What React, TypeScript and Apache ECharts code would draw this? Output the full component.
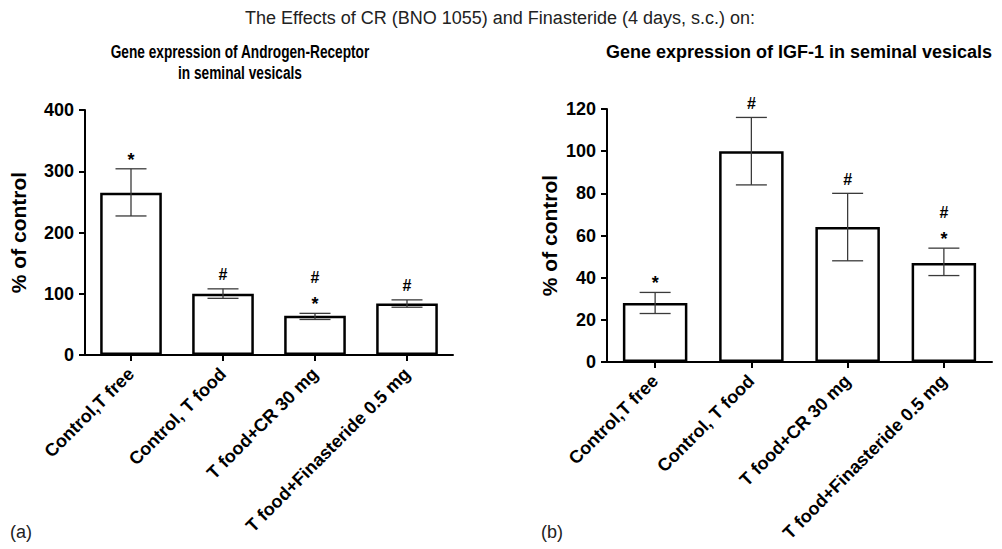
import React, { useEffect, useRef } from "react";
import * as echarts from "echarts";

const categories = ["Control,T free", "Control, T food", "T food+CR 30 mg", "T food+Finasteride 0.5 mg"];

const arMeans = [265, 100, 64, 84];
const arErrLow = [227, 92.5, 58, 78];
const arErrHigh = [304, 108, 68, 90];
const arMarks = [["*"], ["#"], ["*", "#"], ["#"]];

const igfMeans = [28, 100, 64, 47];
const igfErrLow = [23, 84, 48, 41];
const igfErrHigh = [33, 116, 80, 54];
const igfMarks = [["*"], ["#"], ["#"], ["*", "#"]];

const arTicks = { min: 0, max: 400, interval: 100 };
const igfTicks = { min: 0, max: 120, interval: 20 };

const FONT = "'Liberation Sans', Arial, Helvetica, sans-serif";

export default function App() {
  const ref = useRef<HTMLDivElement>(null);

  useEffect(() => {
    if (!ref.current) return;
    const chart = echarts.init(ref.current, undefined, { renderer: "svg" });

    const xAxisCommon = (gridIndex: number) => ({
      type: "category",
      gridIndex,
      data: categories,
      axisLine: { show: true, lineStyle: { color: "#000", width: 2 } },
      axisTick: { show: true, alignWithLabel: true, length: 6, lineStyle: { color: "#000", width: 2 } },
      axisLabel: {
        rotate: 45,
        interval: 0,
        margin: 16,
        color: "#000",
        fontFamily: FONT,
        fontWeight: "bold",
        fontSize: 18,
      },
      splitLine: { show: false },
    });

    const yAxisCommon = (gridIndex: number, t: any, nameGap: number) => ({
      type: "value",
      gridIndex,
      min: t.min,
      max: t.max,
      interval: t.interval,
      name: "% of control",
      nameLocation: "middle",
      nameGap,
      nameTextStyle: { color: "#000", fontFamily: FONT, fontWeight: "bold", fontSize: 21 },
      axisLine: { show: true, lineStyle: { color: "#000", width: 2 } },
      axisTick: { show: true, length: 6, lineStyle: { color: "#000", width: 2 } },
      axisLabel: { color: "#000", fontFamily: FONT, fontWeight: "bold", fontSize: 18, margin: 11 },
      splitLine: { show: false },
    });

    const barSeries = (idx: number, values: number[]) => ({
      type: "bar",
      xAxisIndex: idx,
      yAxisIndex: idx,
      data: values,
      barWidth: "67%",
      itemStyle: { color: "#fff", borderColor: "#000", borderWidth: 2.5 },
      z: 2,
    });

    const errSeries = (idx: number, low: number[], high: number[]) => ({
      type: "custom",
      xAxisIndex: idx,
      yAxisIndex: idx,
      z: 5,
      data: low.map((l, i) => [i, l, high[i]]),
      encode: { x: 0, y: [1, 2] },
      renderItem: (params: any, api: any) => {
        const i = api.value(0);
        const lo = api.coord([i, api.value(1)]);
        const hi = api.coord([i, api.value(2)]);
        const half = 15.5;
        const style = { stroke: "#3a3a3a", lineWidth: 1.3 };
        return {
          type: "group",
          children: [
            { type: "line", shape: { x1: lo[0], y1: lo[1], x2: hi[0], y2: hi[1] }, style },
            { type: "line", shape: { x1: hi[0] - half, y1: hi[1], x2: hi[0] + half, y2: hi[1] }, style },
            { type: "line", shape: { x1: lo[0] - half, y1: lo[1], x2: lo[0] + half, y2: lo[1] }, style },
          ],
        };
      },
    });

    const markSeries = (idx: number, high: number[], marks: string[][]) => ({
      type: "custom",
      xAxisIndex: idx,
      yAxisIndex: idx,
      z: 6,
      data: high.map((h, i) => [i, h]),
      encode: { x: 0, y: 1 },
      renderItem: (params: any, api: any) => {
        const i = api.value(0);
        const p = api.coord([i, api.value(1)]);
        const list = marks[params.dataIndex] || [];
        return {
          type: "group",
          children: list.map((m, k) => ({
            type: "text",
            x: p[0],
            y: p[1] - 14 - k * 22 + (m === "*" ? 5 : 0),
            style: {
              text: m,
              align: "center",
              verticalAlign: "middle",
              fill: "#000",
              fontFamily: FONT,
              fontWeight: "bold",
              fontSize: m === "*" ? 18 : 16,
            },
          })),
        };
      },
    });

    chart.setOption({
      animation: false,
      backgroundColor: "#fff",
      grid: [
        { left: 85, top: 110, width: 368, height: 245, containLabel: false },
        { left: 607, top: 109, width: 385, height: 253, containLabel: false },
      ],
      xAxis: [xAxisCommon(0), xAxisCommon(1)],
      yAxis: [yAxisCommon(0, arTicks, 56), yAxisCommon(1, igfTicks, 47)],
      series: [
        barSeries(0, arMeans),
        errSeries(0, arErrLow, arErrHigh),
        markSeries(0, arErrHigh, arMarks),
        barSeries(1, igfMeans),
        errSeries(1, igfErrLow, igfErrHigh),
        markSeries(1, igfErrHigh, igfMarks),
      ],
      graphic: [
        {
          type: "text",
          x: 500,
          y: 18,
          style: {
            text: "The Effects of CR (BNO 1055) and Finasteride (4 days, s.c.) on:",
            align: "center",
            verticalAlign: "middle",
            fill: "#222",
            fontFamily: FONT,
            fontSize: 18,
          },
        },
        {
          type: "text",
          x: 240,
          y: 52,
          scaleX: 0.72,
          style: {
            text: "Gene expression of Androgen-Receptor",
            align: "center",
            verticalAlign: "middle",
            fill: "#000",
            fontFamily: FONT,
            fontWeight: "bold",
            fontSize: 19,
          },
        },
        {
          type: "text",
          x: 240,
          y: 73,
          scaleX: 0.72,
          style: {
            text: "in seminal vesicals",
            align: "center",
            verticalAlign: "middle",
            fill: "#000",
            fontFamily: FONT,
            fontWeight: "bold",
            fontSize: 19,
          },
        },
        {
          type: "text",
          x: 799,
          y: 52,
          style: {
            text: "Gene expression of IGF-1 in seminal vesicals",
            align: "center",
            verticalAlign: "middle",
            fill: "#000",
            fontFamily: FONT,
            fontWeight: "bold",
            fontSize: 18,
          },
        },
        {
          type: "text",
          x: 10,
          y: 532,
          style: { text: "(a)", verticalAlign: "middle", fill: "#222", fontFamily: FONT, fontSize: 18 },
        },
        {
          type: "text",
          x: 541,
          y: 532,
          style: { text: "(b)", verticalAlign: "middle", fill: "#222", fontFamily: FONT, fontSize: 18 },
        },
      ],
    });

    return () => chart.dispose();
  }, []);

  return (
    <div
      ref={ref}
      style={{ position: "absolute", left: 0, top: 0, width: 1002, height: 549, background: "#fff" }}
    />
  );
}
